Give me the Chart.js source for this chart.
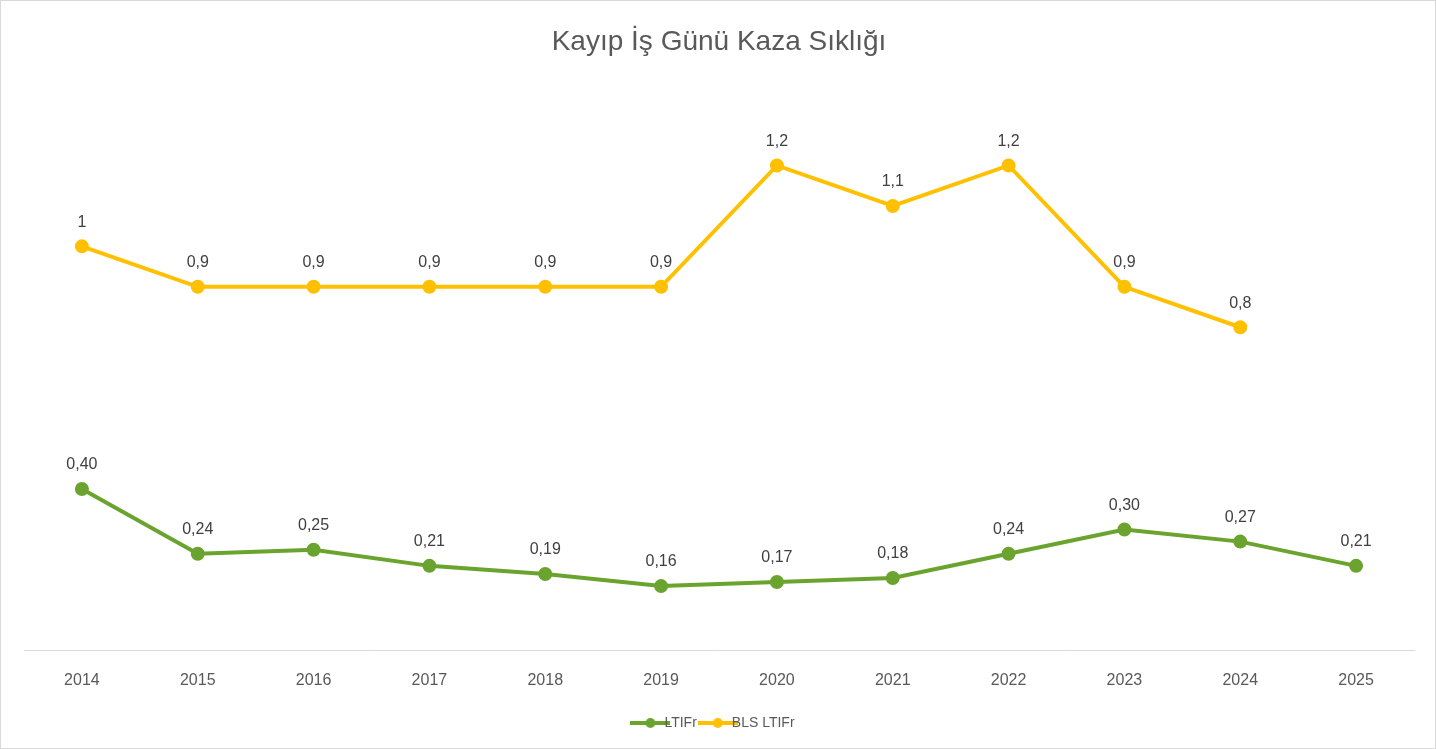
<!DOCTYPE html>
<html>
<head>
<meta charset="utf-8">
<script src="https://cdn.jsdelivr.net/npm/chart.js@4"></script>
<style>
  html, body { margin: 0; padding: 0; background: #fff; }
  #wrap { position: absolute; left: 0; top: 0; width: 1434px; height: 747px; border: 1px solid #d9d9d9; }
</style>
</head>
<body>
<div id="wrap"><canvas id="c" width="1434" height="747"></canvas></div>
<script>
const years = ['2014','2015','2016','2017','2018','2019','2020','2021','2022','2023','2024','2025'];
const ltifr = [0.40, 0.24, 0.25, 0.21, 0.19, 0.16, 0.17, 0.18, 0.24, 0.30, 0.27, 0.21];
const blsLtifr = [1.0, 0.9, 0.9, 0.9, 0.9, 0.9, 1.2, 1.1, 1.2, 0.9, 0.8, null];

// znacznik legendy: linia z kropka
function legendMark(color) {
  const c = document.createElement('canvas');
  c.width = 40; c.height = 12;
  const g = c.getContext('2d');
  g.strokeStyle = color; g.lineWidth = 4;
  g.beginPath(); g.moveTo(0, 6); g.lineTo(40, 6); g.stroke();
  g.fillStyle = color;
  g.beginPath(); g.arc(20, 6, 5, 0, Math.PI * 2); g.fill();
  return c;
}

// etykiety nad punktami
const valueLabels = {
  id: 'valueLabels',
  afterDatasetsDraw(chart) {
    const ctx = chart.ctx;
    ctx.save();
    ctx.font = '16px "Liberation Sans", Arial, sans-serif';
    ctx.fillStyle = '#404040';
    ctx.textAlign = 'center';
    ctx.textBaseline = 'bottom';
    chart.data.datasets.forEach((ds, i) => {
      chart.getDatasetMeta(i).data.forEach((pt, j) => {
        const v = ds.data[j];
        if (v == null) return;
        const txt = i === 0 ? v.toFixed(2).replace('.', ',') : String(v).replace('.', ',');
        ctx.fillText(txt, pt.x, pt.y - 16);
      });
    });
    ctx.restore();
  }
};

new Chart(document.getElementById('c').getContext('2d'), {
  type: 'line',
  data: {
    labels: years,
    datasets: [
      { label: 'LTIFr', data: ltifr, borderColor: '#6aa42f', backgroundColor: '#6aa42f',
        borderWidth: 4, pointRadius: 5, pointHoverRadius: 5, tension: 0, pointStyle: 'circle' },
      { label: 'BLS LTIFr', data: blsLtifr, borderColor: '#ffc000', backgroundColor: '#ffc000',
        borderWidth: 4, pointRadius: 5, pointHoverRadius: 5, tension: 0, pointStyle: 'circle' }
    ]
  },
  options: {
    responsive: false,
    animation: false,
    layout: { padding: { left: 23, right: 21, top: 0, bottom: 8 } },
    plugins: {
      title: { display: true, text: 'Kayıp İş Günü Kaza Sıklığı', color: '#595959',
        font: { size: 28, family: '"Liberation Sans", Arial, sans-serif', weight: 'normal' },
        padding: { top: 24, bottom: 26 } },
      legend: { position: 'bottom',
        labels: { usePointStyle: true, color: '#595959',
          generateLabels(chart) {
            return chart.data.datasets.map((ds, i) => ({
              text: ds.label, pointStyle: legendMark(ds.borderColor), fontColor: '#595959',
              lineWidth: 0, strokeStyle: ds.borderColor, fillStyle: ds.borderColor, datasetIndex: i, hidden: false
            }));
          },
          font: { size: 14, family: '"Liberation Sans", Arial, sans-serif' }, padding: 14 } },
      tooltip: { enabled: false }
    },
    scales: {
      x: { offset: true, grid: { display: false }, border: { color: '#d9d9d9', width: 1 },
        ticks: { color: '#595959', padding: 12, font: { size: 16, family: '"Liberation Sans", Arial, sans-serif' } } },
      y: { display: false, min: 0, max: 1.4 }
    }
  },
  plugins: [valueLabels]
});
</script>
</body>
</html>
